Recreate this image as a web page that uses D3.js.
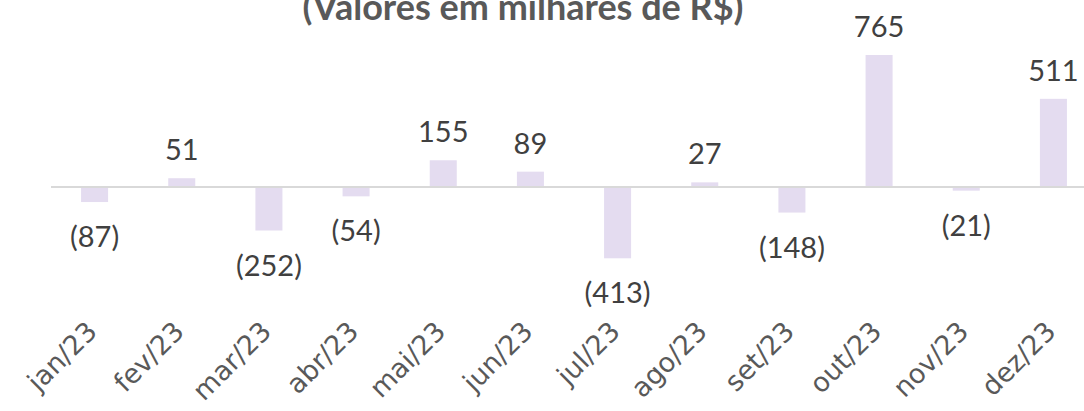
<!DOCTYPE html>
<html>
<head>
<meta charset="utf-8">
<script src="https://cdn.jsdelivr.net/npm/d3@7"></script>
<style>
  body { margin: 0; background: #fff; }
  svg { display: block; font-family: "DejaVu Sans", sans-serif; }
</style>
</head>
<body>
<svg id="chart" width="1084" height="411"></svg>
<script>
"use strict";

// months and monthly values (thousands of R$)
const months = ["jan/23", "fev/23", "mar/23", "abr/23", "mai/23", "jun/23",
                "jul/23", "ago/23", "set/23", "out/23", "nov/23", "dez/23"];
const values = [-87, 51, -252, -54, 155, 89, -413, 27, -148, 765, -21, 511];
const title = "(Valores em milhares de R$)";

let svg = d3.select("#chart");
let data = months.map(function (m, i) { return { month: m, value: values[i] }; });

let x = d3.scaleBand()
    .domain(months)
    .range([51, 1097])
    .paddingInner(0.69)
    .paddingOuter(0.345);

// zero sits at y=187, 765 at y=55
let y = d3.scaleLinear()
    .domain([-413, 765])
    .range([258.3, 55]);

let fmt = function (v) { return v < 0 ? "(" + Math.abs(v) + ")" : String(v); };

// title, cut at the top like the original
svg.append("text")
    .attr("x", 523)
    .attr("y", 20)
    .attr("text-anchor", "middle")
    .style("font-family", "Lato, sans-serif")
    .style("font-size", "36px")
    .style("font-weight", "bold")
    .style("fill", "#595959")
    .text(title);

// bars
svg.selectAll("rect.bar")
    .data(data)
    .enter()
    .append("rect")
    .attr("class", "bar")
    .attr("x", function (d) { return x(d.month); })
    .attr("width", x.bandwidth())
    .attr("y", function (d) { return y(Math.max(0, d.value)); })
    .attr("height", function (d) { return Math.abs(y(d.value) - y(0)); })
    .style("fill", "#E4DCF0");

// zero line
svg.append("line")
    .attr("x1", 51)
    .attr("x2", 1084)
    .attr("y1", y(0))
    .attr("y2", y(0))
    .style("stroke", "#D9D9D9")
    .style("stroke-width", 2);

// value labels
svg.selectAll("text.val")
    .data(data)
    .enter()
    .append("text")
    .attr("class", "val")
    .attr("x", function (d) { return x(d.month) + x.bandwidth() / 2; })
    .attr("y", function (d) {
        return d.value >= 0 ? y(d.value) - 18 : y(d.value) + 45;
    })
    .attr("text-anchor", "middle")
    .style("font-family", "Lato, sans-serif")
    .style("font-size", "29px")
    .style("fill", "#404040")
    .text(function (d) { return fmt(d.value); });

// month labels, rotated
let xAxis = d3.axisBottom(x).tickSize(0).tickPadding(0);
let gx = svg.append("g")
    .attr("transform", "translate(0,330)")
    .call(xAxis);
gx.select(".domain").remove();
gx.selectAll("text")
    .attr("x", 0)
    .attr("y", 0)
    .attr("dy", 0)
    .attr("transform", "translate(4,3) rotate(-45)")
    .attr("text-anchor", "end")
    .style("font-family", "'DejaVu Sans', sans-serif")
    .style("font-size", "27px")
    .style("fill", "#595959");
</script>
</body>
</html>
